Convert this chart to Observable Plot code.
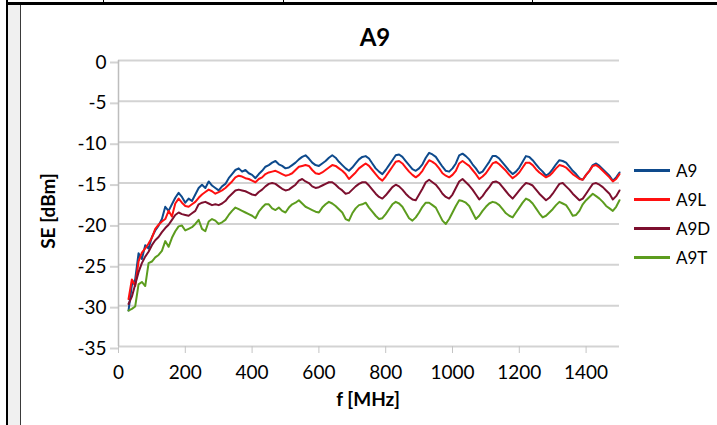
<!DOCTYPE html>
<html><head><meta charset="utf-8">
<script src="https://cdn.jsdelivr.net/npm/d3@7"></script>
<script src="https://cdn.jsdelivr.net/npm/@observablehq/plot@0.6"></script>
<style>
body{margin:0;background:#fff;}
#wrap{position:relative;width:717px;height:425px;overflow:hidden;font-family:Lato,"Open Sans",sans-serif;color:#000;}
#wrap svg{position:absolute;left:0;top:0;}
.deco{position:absolute;}
.txt{position:absolute;white-space:nowrap;}
</style></head><body><div id="wrap"></div>
<script>
const freq = [30,40,50,60,70,80,90,100,110,120,130,140,150,160,170,180,190,200,210,220,230,240,250,260,270,280,290,300,310,320,330,340,350,360,370,380,390,400,410,420,430,440,450,460,470,480,490,500,510,520,530,540,550,560,570,580,590,600,610,620,630,640,650,660,670,680,690,700,710,720,730,740,750,760,770,780,790,800,810,820,830,840,850,860,870,880,890,900,910,920,930,940,950,960,970,980,990,1000,1010,1020,1030,1040,1050,1060,1070,1080,1090,1100,1110,1120,1130,1140,1150,1160,1170,1180,1190,1200,1210,1220,1230,1240,1250,1260,1270,1280,1290,1300,1310,1320,1330,1340,1350,1360,1370,1380,1390,1400,1410,1420,1430,1440,1450,1460,1470,1480,1490,1500];

const a9 = [-30.6,-27.5,-26.8,-23.6,-24.3,-22.6,-23.0,-21.6,-20.8,-20.2,-19.4,-17.9,-18.4,-17.6,-16.8,-16.2,-16.7,-17.4,-16.9,-17.2,-16.4,-15.6,-15.2,-15.6,-14.8,-15.3,-15.6,-15.9,-15.4,-15.1,-14.4,-13.9,-13.4,-13.2,-13.6,-13.4,-13.8,-14.0,-14.4,-13.9,-13.5,-13.0,-12.8,-12.5,-12.3,-12.7,-12.9,-13.2,-13.1,-12.8,-12.5,-12.1,-11.8,-11.6,-12.0,-12.5,-12.8,-12.9,-12.6,-12.3,-11.9,-11.6,-11.9,-12.4,-12.8,-13.2,-13.5,-13.1,-12.6,-12.1,-11.8,-11.7,-12.0,-12.6,-13.2,-13.6,-13.9,-13.4,-12.8,-12.2,-11.6,-11.5,-11.8,-12.3,-12.8,-13.3,-13.5,-13.2,-12.7,-11.9,-11.3,-11.5,-11.8,-12.4,-13.0,-13.5,-13.6,-13.2,-12.6,-11.6,-11.4,-11.7,-12.1,-12.7,-13.2,-13.8,-13.6,-13.0,-12.4,-11.7,-11.7,-12.0,-12.5,-13.0,-13.5,-13.9,-13.6,-13.1,-12.4,-11.7,-11.8,-12.2,-12.7,-13.2,-13.6,-14.1,-13.8,-13.3,-12.7,-12.2,-12.3,-12.5,-13.0,-13.5,-13.9,-14.4,-14.6,-14.0,-13.5,-12.8,-12.6,-12.9,-13.3,-13.7,-14.1,-14.7,-14.3,-13.7];

const a9l = [-29.2,-26.8,-27.6,-24.6,-23.5,-23.0,-22.4,-21.7,-20.6,-20.1,-19.7,-19.4,-18.4,-19.1,-17.5,-16.9,-17.4,-17.8,-17.9,-17.6,-17.3,-16.8,-16.4,-16.1,-15.8,-16.0,-16.3,-16.1,-15.9,-15.6,-15.2,-14.8,-14.3,-14.1,-14.2,-14.4,-14.5,-14.7,-14.9,-14.5,-14.3,-13.9,-13.7,-13.6,-13.5,-13.7,-13.9,-14.1,-14.0,-13.8,-13.4,-13.0,-12.9,-12.8,-12.9,-13.4,-13.8,-13.9,-13.7,-13.4,-13.1,-12.8,-12.9,-13.2,-13.5,-13.9,-14.5,-14.1,-13.7,-13.2,-12.9,-12.6,-12.9,-13.4,-13.9,-14.4,-14.7,-14.2,-13.6,-13.0,-12.4,-12.3,-12.6,-13.1,-13.6,-14.0,-14.3,-14.0,-13.5,-12.8,-12.2,-12.4,-12.7,-13.2,-13.8,-14.1,-14.3,-14.0,-13.5,-12.6,-12.3,-12.6,-12.9,-13.4,-13.9,-14.5,-14.2,-13.8,-13.2,-12.6,-12.4,-12.7,-13.1,-13.5,-14.0,-14.4,-14.1,-13.7,-13.1,-12.5,-12.5,-12.8,-13.3,-13.7,-14.0,-14.3,-14.1,-13.7,-13.2,-12.8,-12.9,-13.1,-13.5,-13.9,-14.2,-14.5,-14.6,-14.0,-13.5,-12.9,-12.8,-13.1,-13.5,-13.9,-14.3,-14.8,-14.5,-13.9];

const a9d = [-29.8,-28.9,-27.4,-25.9,-24.8,-24.0,-23.4,-22.6,-22.0,-21.6,-21.0,-20.5,-20.1,-19.5,-18.9,-18.6,-18.8,-18.9,-19.0,-18.7,-18.4,-17.6,-17.4,-17.3,-17.5,-17.7,-17.6,-17.7,-17.5,-17.2,-16.7,-16.3,-15.9,-15.8,-15.9,-16.0,-16.2,-16.4,-16.5,-16.1,-15.8,-15.4,-15.1,-15.0,-15.1,-15.4,-15.7,-15.9,-15.8,-15.5,-15.2,-14.7,-14.5,-14.8,-15.0,-15.4,-15.6,-15.5,-15.3,-15.1,-14.9,-14.9,-15.2,-15.6,-15.9,-16.3,-16.2,-15.8,-15.4,-15.1,-14.9,-14.9,-15.3,-15.8,-16.3,-16.7,-16.9,-16.5,-16.0,-15.5,-15.2,-15.4,-15.8,-16.3,-16.7,-17.0,-17.1,-16.4,-15.7,-14.9,-14.6,-14.9,-15.2,-15.7,-16.3,-16.7,-16.9,-16.4,-15.6,-14.8,-14.5,-14.9,-15.3,-15.8,-16.4,-17.0,-16.6,-16.0,-15.5,-14.9,-14.8,-15.0,-15.5,-16.0,-16.5,-16.9,-16.4,-15.9,-15.4,-15.0,-15.1,-15.3,-15.8,-16.3,-16.7,-17.1,-16.8,-16.3,-15.7,-15.1,-15.0,-15.4,-15.8,-16.3,-16.7,-17.1,-16.9,-16.3,-15.7,-15.1,-15.0,-15.2,-15.5,-15.9,-16.3,-17.0,-16.6,-15.9];

const a9t = [-30.6,-30.4,-30.1,-27.4,-27.1,-27.6,-24.8,-24.6,-24.1,-23.8,-23.3,-22.1,-22.8,-21.7,-20.9,-20.3,-20.2,-20.8,-20.6,-20.4,-20.0,-19.5,-20.6,-20.9,-19.7,-19.4,-19.6,-20.0,-19.8,-19.5,-18.9,-18.4,-18.0,-18.2,-18.4,-18.6,-18.8,-19.0,-19.3,-18.5,-18.0,-17.6,-17.6,-18.1,-18.3,-18.0,-18.4,-18.6,-18.0,-17.6,-17.4,-17.1,-17.5,-17.9,-18.1,-18.3,-18.5,-18.6,-18.0,-17.6,-17.3,-17.5,-17.8,-18.2,-18.6,-19.4,-19.6,-18.7,-18.1,-17.7,-17.6,-17.4,-18.0,-18.5,-19.0,-19.4,-19.3,-18.8,-18.2,-17.6,-17.3,-17.5,-17.9,-18.6,-19.3,-19.6,-19.2,-18.6,-17.9,-17.4,-17.4,-17.7,-18.0,-18.8,-19.6,-20.0,-19.4,-18.6,-17.8,-17.1,-17.2,-17.4,-17.8,-18.6,-19.4,-19.0,-18.4,-17.9,-17.5,-17.3,-17.4,-17.7,-18.2,-18.7,-19.0,-19.2,-18.6,-18.0,-17.4,-16.9,-17.1,-17.5,-18.1,-18.7,-19.2,-19.0,-18.6,-18.2,-17.7,-17.3,-17.5,-17.7,-18.3,-19.0,-18.9,-18.4,-17.6,-17.1,-16.7,-16.3,-16.6,-16.9,-17.3,-17.8,-18.1,-18.4,-17.9,-17.1];

const seriesNames = ["A9", "A9L", "A9D", "A9T"];
const seriesColors = ["#0e4a8c", "#ff1010", "#7c0f2e", "#5c9c1e"];
const xTicks = [0, 200, 400, 600, 800, 1000, 1200, 1400];
const yTicks = [0, -5, -10, -15, -20, -25, -30, -35];
const titleText = "A9";
const xLabel = "f [MHz]";
const yLabel = "SE [dBm]";

const seriesValues = [a9, a9l, a9d, a9t];
const rows = [];
seriesNames.forEach((s, i) => freq.forEach((f, j) => rows.push({f, v: seriesValues[i][j], s})));

const grey = "#d3d3d3";
const chart = Plot.plot({
  width: 717, height: 425,
  marginLeft: 118, marginRight: 98, marginTop: 60, marginBottom: 79,
  style: {fontFamily: "Lato, 'Open Sans', sans-serif", fontSize: "19px", color: "#000", background: "transparent", overflow: "visible"},
  x: {domain: [0, 1500], label: null},
  y: {domain: [-35, 0], label: null},
  color: {domain: seriesNames, range: seriesColors},
  marks: [
    Plot.ruleY(yTicks, {stroke: grey, strokeWidth: 2}),
    Plot.axisY(yTicks, {tickSize: 8, tickPadding: 4, stroke: grey, strokeWidth: 2, strokeOpacity: 1, tickFormat: d => String(d), fontSize: 19, dy: 2, label: null}),
    Plot.axisX(xTicks, {tickSize: 7, tickPadding: 12, stroke: "#c4c4c4", strokeOpacity: 1, tickFormat: d => String(d), fontSize: 19, label: null}),
    Plot.ruleX([0], {stroke: "#bdbdbd", strokeWidth: 1.5}),
    Plot.line(rows, {x: "f", y: "v", z: "s", stroke: "s", strokeWidth: 2, strokeLinejoin: "round"})
  ]
});
const wrap = document.getElementById("wrap");
wrap.appendChild(chart);

function add(cls, css, text) {
  const d = document.createElement("div");
  d.className = cls;
  Object.assign(d.style, css);
  if (text != null) d.textContent = text;
  wrap.appendChild(d);
  return d;
}
// page / table decoration
add("deco", {left: "6px", top: "2px", width: "711px", height: "3px", background: "#000"});
add("deco", {left: "6px", top: "0px", width: "2px", height: "425px", background: "#000"});
add("deco", {left: "8px", top: "5px", width: "12px", height: "420px", background: "#f0f0f0"});
add("deco", {left: "20px", top: "5px", width: "1px", height: "420px", background: "#3a3a3a"});
[103, 283, 532].forEach(x => add("deco", {left: x + "px", top: "0px", width: "1px", height: "3px", background: "#000"}));

// title & axis labels
add("txt", {left: "375px", top: "36px", transform: "translate(-50%,-50%)", fontSize: "24px", fontWeight: "bold"}, titleText);
add("txt", {left: "368px", top: "398px", transform: "translate(-50%,-50%)", fontSize: "19px", fontWeight: "bold"}, xLabel);
add("txt", {left: "47px", top: "211px", transform: "translate(-50%,-50%) rotate(-90deg)", fontSize: "19px", fontWeight: "bold"}, yLabel);

// legend
seriesNames.forEach((s, i) => {
  const cy = 170 + i * 29;
  add("deco", {left: "634px", top: (cy - 1) + "px", width: "36px", height: "3px", background: seriesColors[i]});
  add("txt", {left: "676px", top: cy + "px", transform: "translateY(-50%)", fontSize: "17px"}, s);
});
</script>
</body></html>
